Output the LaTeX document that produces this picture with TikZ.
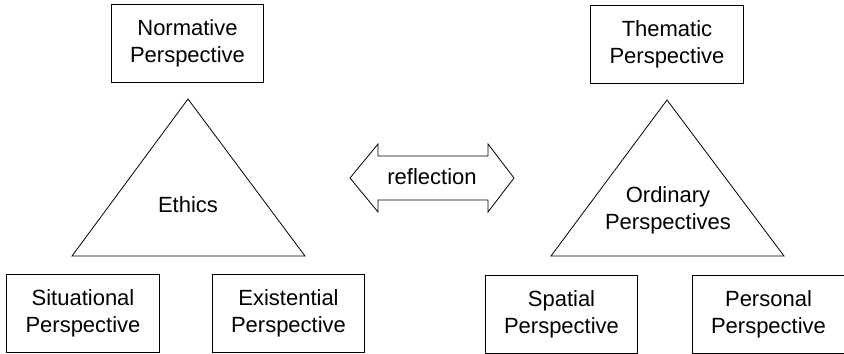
\documentclass[tikz,border=0pt]{standalone}
\usepackage{fontspec}
\setmainfont{Liberation Sans}
\begin{document}
\begin{tikzpicture}[x=0.75pt, y=-0.75pt, line width=0.6pt,
    every node/.style={font=\fontsize{16.5}{20.25}\selectfont, align=center, inner sep=0pt},
    persbox/.style={draw, minimum width=114.5pt, minimum height=58.5pt}]
    \useasboundingbox (0,0) rectangle (844,354);
    % left triangle: ethics
    \node[persbox] (normative) at (187.5,43) {Normative\\Perspective};
    \draw (188,99) -- (305,256) -- (72,256) -- cycle;
    \node (ethics) at (188,205) {Ethics};
    \node[persbox] (situational) at (83,313.5) {Situational\\Perspective};
    \node[persbox] (existential) at (288.5,313.5) {Existential\\Perspective};
    % reflection arrow
    \draw (350,178) -- (378,144) -- (378,156) -- (488,156) -- (488,144) -- (514,178)
          -- (488,212) -- (488,200) -- (378,200) -- (378,212) -- cycle;
    \node (refl) at (432,177) {reflection};
    % right triangle: ordinary perspectives
    \node[persbox] (thematic) at (667,44) {Thematic\\Perspective};
    \draw (667,100) -- (784,256) -- (551,256) -- cycle;
    \node (ordinary) at (668,210) {Ordinary\\Perspectives};
    \node[persbox] (spatial) at (561.5,314) {Spatial\\Perspective};
    \node[persbox] (personal) at (768.5,314) {Personal\\Perspective};
\end{tikzpicture}
\end{document}
